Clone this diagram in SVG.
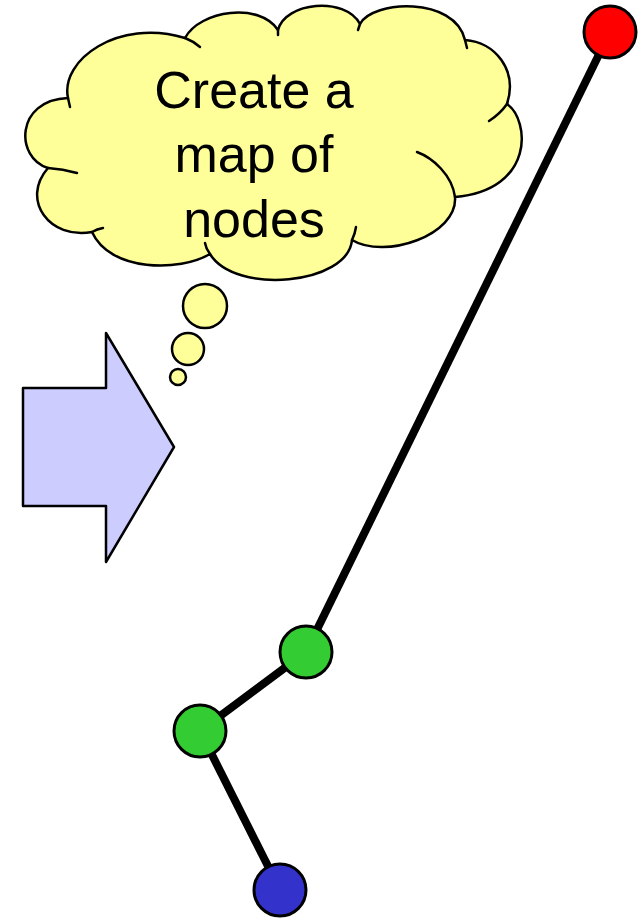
<svg xmlns="http://www.w3.org/2000/svg" width="638" height="918" viewBox="0 0 638 918">
<style>
.outline{stroke:#000;stroke-width:2.5;stroke-linejoin:round}
.cloud{fill:#ffff99}
.stub{fill:none;stroke:#000;stroke-width:2.5;stroke-linecap:round}
.edge{stroke:#000;stroke-width:8;stroke-linecap:butt}
.node{stroke:#000;stroke-width:3}
.label{font-family:"Liberation Sans",Arial,sans-serif;font-size:52px;text-anchor:middle;fill:#000}
</style>
<rect width="638" height="918" fill="#fff"/>
<g id="arrow">
<path class="outline" fill="#ccccff" d="M23,388 L106,388 L106,333 L174,447 L106,562 L106,506 L23,506 Z"/>
</g>
<g id="thought">
<path class="outline cloud" d="M68,98 C60,60 118,18 185,38 C200,10 260,2 278,30 C285,2 345,-4 360,24 C372,0 455,-4 465,40 C495,42 518,70 507,104 C530,120 535,190 455,197 C458,235 385,260 352,240 C348,285 235,295 210,254 C180,272 110,272 92,232 C50,240 20,200 48,168 C15,158 15,100 68,98 Z"/>
<path class="stub" d="M68,98 L70,107"/>
<path class="stub" d="M185,38 Q193,41 200,47"/>
<path class="stub" d="M278,30 L278,35"/>
<path class="stub" d="M360,24 L358,30"/>
<path class="stub" d="M465,40 L467,48"/>
<path class="stub" d="M507,104 Q500,114 489,121"/>
<path class="stub" d="M417,152 C433,158 452,175 455,197"/>
<path class="stub" d="M356,227 Q355,234 352,240"/>
<path class="stub" d="M210,254 Q206,249 205,243"/>
<path class="stub" d="M92,232 Q97,229 103,228"/>
<path class="stub" d="M48,168 Q63,169 77,173"/>
<circle class="outline cloud" cx="205" cy="306" r="22"/>
<circle class="outline cloud" cx="188" cy="349" r="16"/>
<circle class="outline cloud" cx="178" cy="377" r="8"/>
<text class="label" x="254" y="108">Create a</text>
<text class="label" x="254" y="172">map of</text>
<text class="label" x="254" y="237">nodes</text>
</g>
<g id="connectors">
<line class="edge" x1="610" y1="32" x2="306" y2="652"/>
<line class="edge" x1="306" y1="652" x2="200" y2="731"/>
<line class="edge" x1="200" y1="731" x2="280" y2="890"/>
</g>
<g id="node-red"><circle class="node" fill="#ff0000" cx="610" cy="32" r="26"/></g>
<g id="node-green1"><circle class="node" fill="#33cc33" cx="306" cy="652" r="26"/></g>
<g id="node-green2"><circle class="node" fill="#33cc33" cx="200" cy="731" r="26"/></g>
<g id="node-blue"><circle class="node" fill="#3333cc" cx="280" cy="890" r="26"/></g>
</svg>
